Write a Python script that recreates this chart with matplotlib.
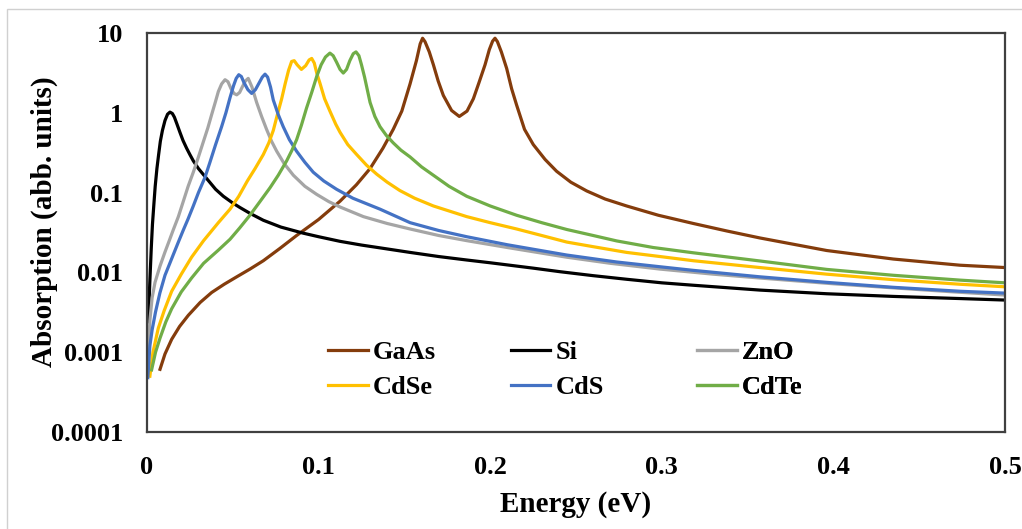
import matplotlib
matplotlib.use("Agg")
import matplotlib.pyplot as plt
from matplotlib.patches import Rectangle
from matplotlib.ticker import NullLocator

plt.rcParams['font.family'] = ['Liberation Serif', 'DejaVu Serif']
plt.rcParams['font.weight'] = 'bold'

# values (energy in eV, absorption in abb. units)
si_x = [0.0008, 0.0016, 0.0025, 0.0032, 0.004, 0.0048, 0.0058, 0.0068, 0.0078, 0.009,
        0.0105, 0.012, 0.0134, 0.0148, 0.016, 0.0175, 0.0192, 0.021, 0.0231, 0.025,
        0.027, 0.03, 0.0348, 0.04, 0.0445, 0.05, 0.0542, 0.06, 0.0678, 0.078,
        0.0911, 0.1, 0.1125, 0.125, 0.1358, 0.1533, 0.17, 0.1863, 0.2, 0.2251,
        0.2407, 0.26, 0.2795, 0.3, 0.3184, 0.3572, 0.3961, 0.4349, 0.4738, 0.5]
si_y = [0.0024, 0.007, 0.02, 0.04, 0.07, 0.12, 0.2, 0.3, 0.44, 0.6,
        0.8, 0.96, 1.02, 0.98, 0.88, 0.72, 0.57, 0.45, 0.36, 0.3,
        0.25, 0.2, 0.15, 0.11, 0.09, 0.074, 0.065, 0.055, 0.045, 0.037,
        0.031, 0.028, 0.0245, 0.022, 0.0203, 0.0178, 0.0158, 0.0143, 0.0132, 0.0113,
        0.0102, 0.0091, 0.0082, 0.0074, 0.0069, 0.006, 0.0054, 0.005, 0.0047, 0.0045]

gaas_x = [0.0076, 0.0105, 0.0144, 0.019, 0.0241, 0.031, 0.0377, 0.045, 0.0523, 0.06,
          0.0678, 0.0775, 0.0872, 0.1, 0.1125, 0.122, 0.13, 0.1375, 0.1435, 0.1485,
          0.1533, 0.157, 0.1592, 0.1606, 0.162, 0.1645, 0.1669, 0.1697, 0.1727, 0.1775,
          0.182, 0.1865, 0.1902, 0.1935, 0.197, 0.1995, 0.2014, 0.2028, 0.2042, 0.2065,
          0.2096, 0.2125, 0.2154, 0.22, 0.2251, 0.232, 0.2387, 0.247, 0.2562, 0.267,
          0.2795, 0.298, 0.3184, 0.338, 0.3572, 0.3961, 0.4349, 0.4738, 0.5]
gaas_y = [0.00061, 0.00095, 0.00145, 0.0021, 0.0029, 0.0042, 0.0056, 0.0071, 0.0088, 0.011,
          0.014, 0.02, 0.029, 0.046, 0.078, 0.125, 0.2, 0.36, 0.62, 1.05,
          2.3, 4.5, 7.3, 8.6, 7.8, 5.8, 4.0, 2.5, 1.65, 1.07,
          0.9, 1.05, 1.5, 2.4, 4.0, 6.2, 7.9, 8.6, 7.8, 5.8,
          3.6, 2.0, 1.25, 0.62, 0.4, 0.26, 0.185, 0.135, 0.105, 0.083,
          0.068, 0.052, 0.041, 0.033, 0.027, 0.0188, 0.0147, 0.0123, 0.0115]

zno_x = [0.0005, 0.0017, 0.003, 0.0047, 0.0076, 0.0105, 0.013, 0.0153, 0.0183, 0.0212,
         0.024, 0.027, 0.03, 0.0328, 0.0355, 0.0377, 0.04, 0.0416, 0.0435, 0.0455,
         0.0472, 0.049, 0.0507, 0.0523, 0.054, 0.0555, 0.0573, 0.059, 0.0612, 0.0639,
         0.0668, 0.0697, 0.0726, 0.0756, 0.08, 0.0853, 0.092, 0.0989, 0.106, 0.1125,
         0.1261, 0.14, 0.1533, 0.17, 0.1863, 0.21, 0.2446, 0.27, 0.299, 0.33,
         0.3572, 0.4, 0.4349, 0.47, 0.5]
zno_y = [0.0008, 0.0025, 0.0048, 0.0075, 0.012, 0.018, 0.025, 0.034, 0.05, 0.078,
         0.12, 0.18, 0.28, 0.43, 0.65, 0.95, 1.4, 1.85, 2.3, 2.6,
         2.45, 2.0, 1.75, 1.68, 1.8, 2.1, 2.5, 2.7, 2.1, 1.35,
         0.9, 0.62, 0.44, 0.33, 0.23, 0.165, 0.12, 0.095, 0.077, 0.066,
         0.05, 0.041, 0.035, 0.029, 0.025, 0.0205, 0.0155, 0.013, 0.011, 0.0095,
         0.0085, 0.0072, 0.0064, 0.0057, 0.0052]

cdse_x = [0.0017, 0.0035, 0.0066, 0.01, 0.0144, 0.02, 0.026, 0.033, 0.0416, 0.0484,
          0.0535, 0.0585, 0.063, 0.0678, 0.071, 0.0736, 0.076, 0.0785, 0.0805, 0.0825,
          0.0843, 0.0858, 0.0875, 0.09, 0.0925, 0.0945, 0.096, 0.0975, 0.099, 0.1008,
          0.1035, 0.1066, 0.11, 0.1125, 0.117, 0.1222, 0.128, 0.1339, 0.14, 0.1474,
          0.156, 0.1669, 0.1863, 0.2, 0.2154, 0.23, 0.2446, 0.26, 0.2795, 0.3,
          0.3184, 0.3572, 0.3961, 0.4349, 0.4738, 0.5]
cdse_y = [0.0005, 0.001, 0.002, 0.0033, 0.0058, 0.0095, 0.0155, 0.025, 0.042, 0.062,
          0.09, 0.14, 0.2, 0.3, 0.42, 0.6, 0.95, 1.5, 2.3, 3.4,
          4.4, 4.5, 4.0, 3.5, 3.9, 4.6, 4.8, 4.2, 3.1, 2.35,
          1.5, 1.05, 0.72, 0.57, 0.4, 0.3, 0.22, 0.17, 0.135, 0.106,
          0.085, 0.068, 0.05, 0.042, 0.035, 0.029, 0.024, 0.021, 0.0178, 0.0157,
          0.014, 0.0115, 0.0095, 0.0081, 0.0071, 0.0066]

cds_x = [0.0005, 0.0017, 0.003, 0.005, 0.0075, 0.0105, 0.013, 0.015, 0.0183, 0.0212,
         0.024, 0.027, 0.03, 0.0338, 0.0367, 0.04, 0.0435, 0.046, 0.0484, 0.0505,
         0.052, 0.0535, 0.055, 0.0565, 0.0588, 0.061, 0.0632, 0.0655, 0.0672, 0.0688,
         0.0703, 0.072, 0.0736, 0.0765, 0.0794, 0.083, 0.0872, 0.092, 0.0969, 0.103,
         0.1105, 0.12, 0.1358, 0.1533, 0.17, 0.1863, 0.21, 0.2446, 0.2737, 0.3,
         0.3184, 0.3572, 0.3961, 0.4349, 0.4738, 0.5]
cds_y = [0.00048, 0.0012, 0.0019, 0.0032, 0.0055, 0.0092, 0.0125, 0.016, 0.024, 0.034,
         0.047, 0.068, 0.1, 0.155, 0.24, 0.4, 0.67, 1.0, 1.55, 2.2,
         2.7, 3.0, 2.85, 2.4, 1.95, 1.75, 1.95, 2.4, 2.8, 3.05,
         2.8, 2.1, 1.45, 0.95, 0.67, 0.46, 0.33, 0.24, 0.18, 0.14,
         0.11, 0.085, 0.062, 0.042, 0.0335, 0.028, 0.0222, 0.0165, 0.0135, 0.0117,
         0.0106, 0.0088, 0.0075, 0.0065, 0.0058, 0.0055]

cdte_x = [0.0027, 0.005, 0.0076, 0.011, 0.0144, 0.02, 0.026, 0.033, 0.0416, 0.0484,
          0.054, 0.06, 0.066, 0.0717, 0.0765, 0.0814, 0.0845, 0.0872, 0.09, 0.093,
          0.096, 0.0989, 0.1015, 0.104, 0.1066, 0.1085, 0.1105, 0.1125, 0.1144, 0.1163,
          0.1182, 0.1202, 0.1218, 0.1235, 0.125, 0.1268, 0.1285, 0.13, 0.1328, 0.1358,
          0.1395, 0.1435, 0.148, 0.1533, 0.16, 0.1669, 0.176, 0.1863, 0.2, 0.2154,
          0.23, 0.2446, 0.26, 0.2737, 0.295, 0.3184, 0.3572, 0.3961, 0.4349, 0.4738, 0.5]
cdte_y = [0.0006, 0.001, 0.0015, 0.0024, 0.0035, 0.0057, 0.0085, 0.013, 0.019, 0.026,
          0.036, 0.052, 0.078, 0.115, 0.165, 0.25, 0.34, 0.46, 0.7, 1.15,
          1.8, 2.85, 4.0, 5.0, 5.6, 5.2, 4.3, 3.5, 3.15, 3.5,
          4.5, 5.5, 5.8, 5.2, 4.0, 2.8, 1.9, 1.35, 0.9, 0.67,
          0.52, 0.42, 0.34, 0.28, 0.21, 0.165, 0.12, 0.09, 0.068, 0.052,
          0.042, 0.0345, 0.029, 0.0248, 0.0205, 0.0176, 0.0139, 0.0109, 0.0092, 0.008, 0.0074]

x_ticks = [0, 0.1, 0.2, 0.3, 0.4, 0.5]
x_labels = ['0', '0.1', '0.2', '0.3', '0.4', '0.5']
y_ticks = [0.0001, 0.001, 0.01, 0.1, 1, 10]
y_labels = ['0.0001', '0.001', '0.01', '0.1', '1', '10']

fig = plt.figure(figsize=(10.22, 5.29), dpi=100)
ax = fig.add_axes([0.1438, 0.1834, 0.8396, 0.7542])

# light grey chart-area border (cut off at right and bottom, as in the picture)
fig.patches.append(Rectangle((0.007, -0.1), 1.2, 1.083, transform=fig.transFigure,
                             fill=False, edgecolor='#d0d0d0', linewidth=1.0))

lw = 2.3
l_gaas, = ax.plot(gaas_x, gaas_y, color='#843c0c', lw=lw, label='GaAs')
l_si, = ax.plot(si_x, si_y, color='black', lw=lw, label='Si')
l_zno, = ax.plot(zno_x, zno_y, color='#a5a5a5', lw=lw, label='ZnO')
l_cdse, = ax.plot(cdse_x, cdse_y, color='#ffc000', lw=lw, label='CdSe')
l_cds, = ax.plot(cds_x, cds_y, color='#4472c4', lw=lw, label='CdS')
l_cdte, = ax.plot(cdte_x, cdte_y, color='#70ad47', lw=lw, label='CdTe')
for ln in ax.get_lines():
    ln.set_solid_joinstyle('round')

ax.set_yscale('log')
ax.set_xlim(0, 0.5)
ax.set_ylim(0.0001, 10)
ax.set_xticks(x_ticks)
ax.set_xticklabels(x_labels)
ax.set_yticks(y_ticks)
ax.set_yticklabels(y_labels)
ax.yaxis.set_minor_locator(NullLocator())
ax.tick_params(axis='both', length=0, labelsize=19)
ax.tick_params(axis='x', pad=17)
ax.tick_params(axis='y', pad=17)
for s in ax.spines.values():
    s.set_color('#404040')
    s.set_linewidth(1.6)

ax.set_xlabel('Energy (eV)', fontsize=21, fontweight='bold', labelpad=9)
ax.set_ylabel('Absorption (abb. units)', fontsize=21, fontweight='bold')
ax.yaxis.set_label_coords(-0.104, 0.526)

# three legend columns, spaced evenly like the original
cols = [[l_gaas, l_cdse], [l_si, l_cds], [l_zno, l_cdte]]
col_x = [0.211, 0.424, 0.641]
for handles, cx in zip(cols, col_x):
    leg = ax.legend(handles=handles, loc='upper left', bbox_to_anchor=(cx, 0.228),
                    frameon=False, fontsize=19, handlelength=1.5, handletextpad=0.2,
                    labelspacing=0.42, borderpad=0, borderaxespad=0)
    ax.add_artist(leg)

fig.savefig('out.png', dpi=100)
